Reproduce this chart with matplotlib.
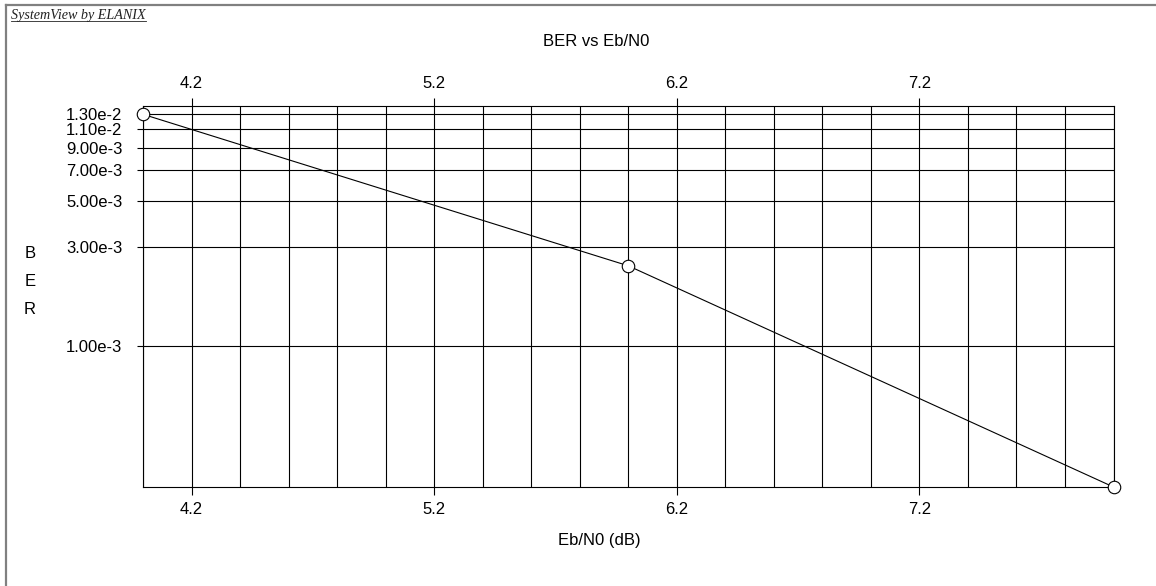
import matplotlib
matplotlib.use("Agg")
import matplotlib.pyplot as plt
from matplotlib.ticker import FixedLocator, MultipleLocator, NullLocator, FixedFormatter
from matplotlib.lines import Line2D

# ---- data ----
ebn0 = [4.0, 6.0, 8.0]
ber = [1.3e-2, 2.43e-3, 2.1e-4]
x_ticks = [4.2, 5.2, 6.2, 7.2]
x_tick_labels = ["4.2", "5.2", "6.2", "7.2"]
y_ticks = [1.3e-2, 1.1e-2, 9e-3, 7e-3, 5e-3, 3e-3, 1e-3]
y_tick_labels = ["1.30e-2", "1.10e-2", "9.00e-3", "7.00e-3", "5.00e-3", "3.00e-3", "1.00e-3"]
title = "BER vs Eb/N0"
x_label = "Eb/N0 (dB)"
y_label = ["B", "E", "R"]
brand = "SystemView by ELANIX"

plt.rcParams['font.family'] = ['Liberation Sans', 'DejaVu Sans']
W, H = 1156, 586
FS = 12
fig = plt.figure(figsize=(W / 100, H / 100), dpi=100)

def fx(px):
    return px / W

def fy(py):
    return 1 - py / H

left, right, top, bottom = 143, 1113.5, 106, 487
ax = fig.add_axes([fx(left), fy(bottom), fx(right - left), (bottom - top) / H])

ax.plot(ebn0, ber, color="black", lw=0.8, marker="o", markersize=9,
        markerfacecolor="white", markeredgecolor="black", markeredgewidth=0.8,
        clip_on=False, zorder=5)

ax.set_yscale("log")
ax.set_xlim(4.0, 8.0)
ax.set_ylim(2.1e-4, 1.425e-2)

ax.yaxis.set_major_locator(FixedLocator(y_ticks))
ax.yaxis.set_major_formatter(FixedFormatter(y_tick_labels))
ax.yaxis.set_minor_locator(NullLocator())
ax.tick_params(axis="y", which="major", direction="out", length=4, width=0.8,
               pad=11, labelsize=FS, colors="black")

ax.xaxis.set_major_locator(FixedLocator(x_ticks))
ax.xaxis.set_major_formatter(FixedFormatter(x_tick_labels))
ax.xaxis.set_minor_locator(MultipleLocator(0.2))
ax.tick_params(axis="x", which="major", direction="out", length=6, width=0.8,
               pad=5, labelsize=FS, bottom=True, top=False)
ax.tick_params(axis="x", which="minor", length=0)

sec = ax.secondary_xaxis("top")
sec.xaxis.set_major_locator(FixedLocator(x_ticks))
sec.xaxis.set_major_formatter(FixedFormatter(x_tick_labels))
sec.tick_params(axis="x", direction="out", length=6, width=0.8, pad=5, labelsize=FS)
sec.spines["top"].set_visible(False)

ax.grid(True, which="both", axis="x", color="black", lw=0.8)
ax.grid(True, which="major", axis="y", color="black", lw=0.8)
for s in ax.spines.values():
    s.set_linewidth(0.8)
    s.set_color("black")

fig.text(fx(596), fy(42), title, ha="center", va="center", fontsize=FS)
fig.text(fx(599.5), fy(541), x_label, ha="center", va="center", fontsize=FS)
for i, ch in enumerate(y_label):
    fig.text(fx(30), fy(254 + 27.5 * i), ch, ha="center", va="center", fontsize=FS)

t = fig.text(fx(11), fy(15), brand, ha="left", va="center", fontsize=10.2,
             family="Liberation Serif", style="italic", color="#222222")
fig.canvas.draw()
bb = t.get_window_extent(fig.canvas.get_renderer())
fig.add_artist(Line2D([bb.x0 / W, bb.x1 / W], [fy(20.5), fy(20.5)],
                      transform=fig.transFigure, color="#222222", lw=0.6))

# outer frame (top and left only visible)
fig.add_artist(Line2D([fx(6), 1.0], [fy(5), fy(5)], transform=fig.transFigure,
                      color="#808080", lw=1.6))
fig.add_artist(Line2D([fx(6), fx(6)], [fy(5), 0.0], transform=fig.transFigure,
                      color="#808080", lw=1.6))

fig.savefig("out.png", dpi=100, facecolor="white")
